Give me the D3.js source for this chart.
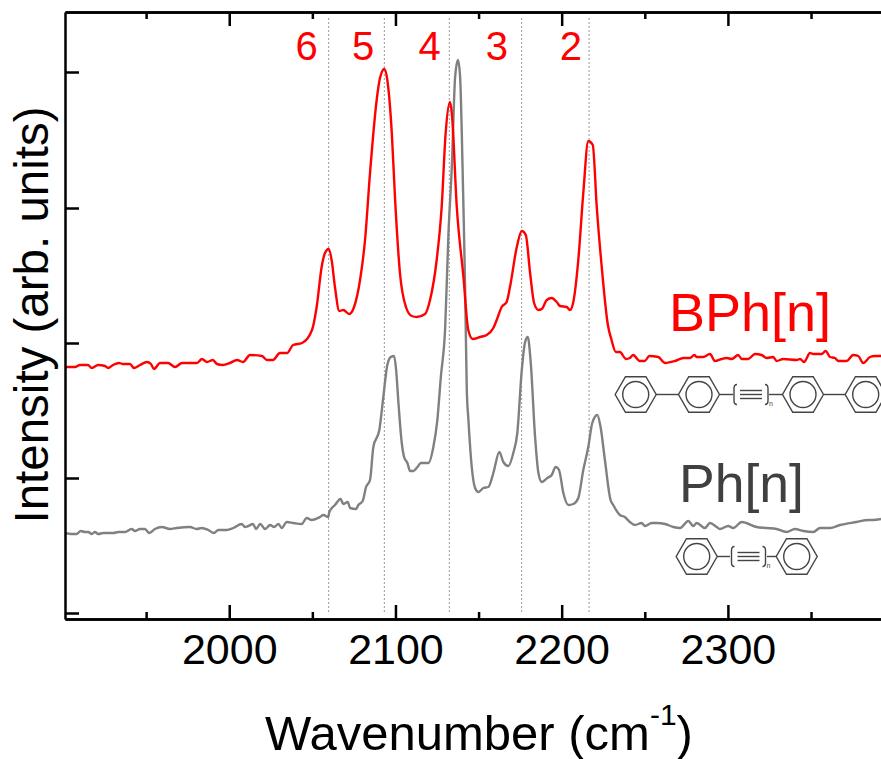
<!DOCTYPE html>
<html lang="en">
    <head>
        <meta charset="utf-8">
        <title>Raman spectra BPh[n] and Ph[n]</title>
        <script src="https://d3js.org/d3.v7.min.js"></script>
        <style type="text/css">
            body{ margin: 0; background: #fff; }
            svg{ display: block; font-family: "Liberation Sans", Arial, sans-serif; }
            .axis path, .axis line{ stroke: #000; stroke-width: 2.5px; }
            .axis text{ font-family: "Liberation Sans", Arial, sans-serif; font-size: 43px; fill: #000; }
            .mol{ fill: none; stroke: #444; stroke-width: 1.4px; }
        </style>
    </head>
    <body>
        <script type="text/javascript">

        const w = 881;
        const h = 759;

        //red curve
        const bphWave = [1901.2,1907.2,1910.2,1915,1917.3,1921.1,1925.3,1927.1,1930.1,1933.7,1936.1,1940.3,1942.7,1946.3,1950.5,1952.9,1954.7,1958.4,1963.2,1967.4,1971.6,1977.6,1980.6,1983.6,1986.6,1990.2,1992.6,1996.2,2000.4,2004.7,2008.3,2012.5,2019.7,2022.7,2026.3,2030.5,2034.8,2038.4,2043.8,2049.8,2052.6,2055.6,2057.6,2059.8,2061.6,2063.6,2066.2,2068.6,2072.2,2075.1,2078.7,2081.7,2084.7,2088.7,2090.7,2093.3,2095.1,2097.8,2099.8,2102.7,2106.3,2109.8,2112.8,2117.8,2120.8,2124.8,2127.8,2130.2,2132.8,2133.9,2136.9,2140.9,2143.8,2146.5,2150.9,2154.9,2158.9,2160.9,2163.9,2166.9,2168.9,2173,2176,2178.4,2181,2183.4,2186,2188,2191,2194,2197,2199,2203,2205,2207,2210,2213,2216,2218.7,2221.1,2224.1,2227.8,2230,2232.6,2235,2238.7,2241,2243,2247,2250,2252.7,2258.1,2262.2,2268.2,2273.2,2277.2,2279.8,2281.2,2285.2,2289.2,2292.2,2296.3,2299.3,2302.3,2306.2,2308.3,2312.2,2316.3,2320.3,2323.3,2327.3,2329.3,2333.3,2341.4,2343.4,2345.8,2349.4,2351.4,2356.4,2358.8,2361.4,2364.4,2366.4,2371.4,2375.4,2378.4,2381.4,2385.5,2388.5,2392.1];
        const bphVal = [246,246,248,248,245,248,247,245,248,250,249,249,245,248,251,249,244,250,250,246,250,250,250,254,251,253,249,248,250,253,251,258,257,253,253,260,260,268,270,283,306,346,360,364,353,326,302,303,299,306,333,373,440,513,535,544,533,480,413,340,306,297,296,299,313,353,406,480,511,500,406,336,283,274,276,278,285,293,306,311,326,366,382,378,340,310,303,304,313,315,311,307,306,303,311,353,420,472,468,406,346,288,273,261,261,254,255,258,252,252,257,256,250,252,255,255,258,256,256,259,252,254,255,254,258,254,254,259,258,255,256,252,254,253,254,251,260,259,259,262,256,255,252,252,258,257,250,256,257,257];

        //gray curve
        const phWave = [1901.2,1905.2,1908.2,1910.6,1913.2,1915.2,1917.3,1919.2,1921.2,1924.2,1930.3,1933.3,1937.3,1941.3,1943.3,1946.3,1949.3,1951.9,1955.3,1959.4,1964.4,1968.4,1976.4,1980.4,1983.4,1987.4,1990.8,1993.4,1998.5,2002.4,2007.5,2009.5,2011.5,2014.2,2016.2,2018.6,2021.6,2024.6,2027,2029.6,2031.6,2034.6,2038.6,2043.6,2046.6,2049.6,2054.6,2056.6,2059.6,2060.2,2063.6,2067,2068.6,2071.3,2072.7,2076.3,2077.7,2080.3,2082.3,2084.7,2086.7,2090.3,2092.7,2095.1,2097.2,2099.2,2100.4,2101.8,2103.8,2105.2,2107.2,2108.8,2110.8,2113.2,2115.3,2119.8,2122.8,2125.2,2127.3,2129.9,2131.9,2133.9,2135.9,2137.6,2138.9,2139.9,2140.9,2141.9,2142.9,2143.9,2145.9,2147.9,2149.9,2152.9,2155.9,2158.9,2162.5,2164.9,2167.9,2170.9,2173.3,2176,2178,2179.6,2181.4,2184,2186,2188,2191.4,2194,2196.4,2198.4,2201,2204,2207,2210,2213,2216,2218.4,2221.4,2223.4,2226,2229.4,2231,2235,2238,2241,2244,2248.1,2250.1,2254.2,2257.2,2262.2,2267.2,2271.2,2276.2,2279.2,2281.2,2286.2,2289.2,2293.3,2295.2,2300.2,2303.2,2308.3,2317.3,2323.3,2329.3,2335.3,2340.3,2345.4,2351.4,2355.4,2361.4,2367.4,2377.4,2384.4,2387.4,2392.1];
        const phVal = [80,79,79,82,81,81,79,81,79,80,80,81,81,84,82,84,84,80,84,86,84,85,86,84,85,83,80,83,83,85,89,86,87,89,84,89,84,88,86,89,85,91,90,89,95,93,96,98,96,101,108,114,109,111,105,104,108,112,126,133,166,183,216,248,256,257,243,210,170,156,150,142,142,146,150,150,166,193,236,285,380,446,536,553,536,480,406,326,224,193,146,125,121,125,126,140,161,151,147,160,180,243,271,276,250,176,140,131,135,138,146,143,120,108,109,115,143,166,190,198,186,153,113,108,98,96,91,88,90,87,90,90,89,86,85,92,87,90,85,90,86,84,87,85,91,86,85,84,81,84,82,81,85,85,88,91,93,93,94];

        const xMajor = [2000, 2100, 2200, 2300];
        const xMinor = [1950, 2050, 2150, 2250, 2350];
        const yMajor = [0, 135, 270, 405, 541];

        //peak positions and the labels above them
        const peakWave = [2059.8, 2093.3, 2132.4, 2175.9, 2216.5];
        const peakNames = ["6", "5", "4", "3", "2"];
        const peakLabelWave = [2046.5, 2080.5, 2120.6, 2161, 2205.5];

        const svg = d3.select("body").append("svg")
            .attr("width", w)
            .attr("height", h);

        const x = d3.scaleLinear().domain([1901.2, 2392.1]).range([65, w]);
        const y = d3.scaleLinear().domain([-6, 601]).range([619, 12]);

        svg.append("defs").append("clipPath").attr("id", "plot")
            .append("rect").attr("x", 65).attr("y", 12).attr("width", w - 65).attr("height", 607);

        //dotted peak guides
        svg.selectAll(".guide")
           .data(peakWave)
           .enter()
           .append("line")
           .attr("class", "guide")
           .attr("x1", d => x(d))
           .attr("x2", d => x(d))
           .attr("y1", 18)
           .attr("y2", 612)
           .attr("stroke", "#999")
           .attr("stroke-width", 1)
           .attr("stroke-dasharray", "2,2");

        const line = d3.line()
            .x(d => x(d[0]))
            .y(d => y(d[1]))
            .curve(d3.curveMonotoneX);

        //gray goes under red
        const curves = [
            {wave: phWave, val: phVal, color: "#808080"},
            {wave: bphWave, val: bphVal, color: "#ff0000"}
        ];
        curves.forEach(c => {
            svg.append("path")
               .attr("d", line(d3.zip(c.wave, c.val)))
               .attr("fill", "none")
               .attr("stroke", c.color)
               .attr("stroke-width", 2.4)
               .attr("stroke-linejoin", "round")
               .attr("clip-path", "url(#plot)");
        });

        //axes: bottom and left carry the labels, top only mirrors the ticks
        const bottom = svg.append("g").attr("class", "axis").attr("transform", "translate(0,619)");
        bottom.call(d3.axisBottom(x).tickValues(xMajor).tickSize(-14).tickSizeOuter(0).tickPadding(14).tickFormat(d3.format("d")));
        svg.append("g").attr("class", "axis").attr("transform", "translate(0,619)")
           .call(d3.axisBottom(x).tickValues(xMinor).tickSize(-7).tickSizeOuter(0).tickFormat(""));
        svg.append("g").attr("class", "axis").attr("transform", "translate(0,12)")
           .call(d3.axisTop(x).tickValues(xMajor).tickSize(-14).tickSizeOuter(0).tickFormat(""));
        svg.append("g").attr("class", "axis").attr("transform", "translate(0,12)")
           .call(d3.axisTop(x).tickValues(xMinor).tickSize(-7).tickSizeOuter(0).tickFormat(""));
        svg.append("g").attr("class", "axis").attr("transform", "translate(65,0)")
           .call(d3.axisLeft(y).tickValues(yMajor).tickSize(-14).tickSizeOuter(0).tickFormat(""));

        //axis titles
        const xTitle = svg.append("text")
            .attr("x", 479)
            .attr("y", 750)
            .attr("text-anchor", "middle")
            .style("font-size", "49px")
            .attr("fill", "#000");
        xTitle.append("tspan").text("Wavenumber (cm");
        xTitle.append("tspan").attr("dy", -25).style("font-size", "30px").text("-1");
        xTitle.append("tspan").attr("dy", 25).text(")");

        svg.append("text")
           .attr("transform", "translate(48,315) rotate(-90)")
           .attr("text-anchor", "middle")
           .style("font-size", "47.5px")
           .attr("fill", "#000")
           .text("Intensity (arb. units)");

        //peak numbers
        svg.selectAll(".peak")
           .data(peakNames)
           .enter()
           .append("text")
           .attr("class", "peak")
           .attr("x", (d, i) => x(peakLabelWave[i]))
           .attr("y", 60)
           .attr("text-anchor", "middle")
           .style("font-size", "40px")
           .attr("fill", "#ff0000")
           .text(d => d);

        //series names
        svg.append("text")
           .attr("x", 669).attr("y", 331)
           .style("font-size", "54px")
           .attr("fill", "#ff0000")
           .text("BPh[n]");
        svg.append("text")
           .attr("x", 679).attr("y", 502)
           .style("font-size", "53.5px")
           .attr("fill", "#404040")
           .text("Ph[n]");

        //molecule sketches
        function ring(g, cx, cy) {
            const r = 20.5;
            const pts = d3.range(6).map(i => [cx + r * Math.cos(i * Math.PI / 3), cy + r * Math.sin(i * Math.PI / 3)]);
            g.append("path").attr("d", d3.line()(pts) + "Z");
            g.append("circle").attr("cx", cx).attr("cy", cy).attr("r", 13);
        }
        function bond(g, x1, x2, cy) {
            g.append("line").attr("x1", x1).attr("x2", x2).attr("y1", cy).attr("y2", cy);
        }
        function triple(g, cx, cy) {
            [-4, 0, 4].forEach(d => g.append("line")
                .attr("x1", cx - 11).attr("x2", cx + 11)
                .attr("y1", cy + d).attr("y2", cy + d));
            g.append("path").attr("d", `M${cx - 14},${cy - 10} Q${cx - 17},${cy - 10} ${cx - 17},${cy - 6} V${cy + 6} Q${cx - 17},${cy + 10} ${cx - 14},${cy + 10}`);
            g.append("path").attr("d", `M${cx + 14},${cy - 10} Q${cx + 17},${cy - 10} ${cx + 17},${cy - 6} V${cy + 6} Q${cx + 17},${cy + 10} ${cx + 14},${cy + 10}`);
            g.append("text").attr("x", cx + 18).attr("y", cy + 11)
             .style("font-size", "7px").attr("fill", "#444").attr("stroke", "none").text("n");
        }

        const mol1 = svg.append("g").attr("class", "mol").attr("clip-path", "url(#plot)");
        [635.7, 699, 803, 865.7].forEach(cx => ring(mol1, cx, 394.5));
        bond(mol1, 656, 678.5, 394.5);
        bond(mol1, 719.5, 733, 394.5);
        bond(mol1, 769, 782.5, 394.5);
        bond(mol1, 823.5, 845, 394.5);
        triple(mol1, 751, 394.5);

        const mol2 = svg.append("g").attr("class", "mol");
        [696.7, 796.7].forEach(cx => ring(mol2, cx, 556.5));
        bond(mol2, 717, 730, 556.5);
        bond(mol2, 767, 776, 556.5);
        triple(mol2, 748.5, 556.5);

        </script>
    </body>
</html>
